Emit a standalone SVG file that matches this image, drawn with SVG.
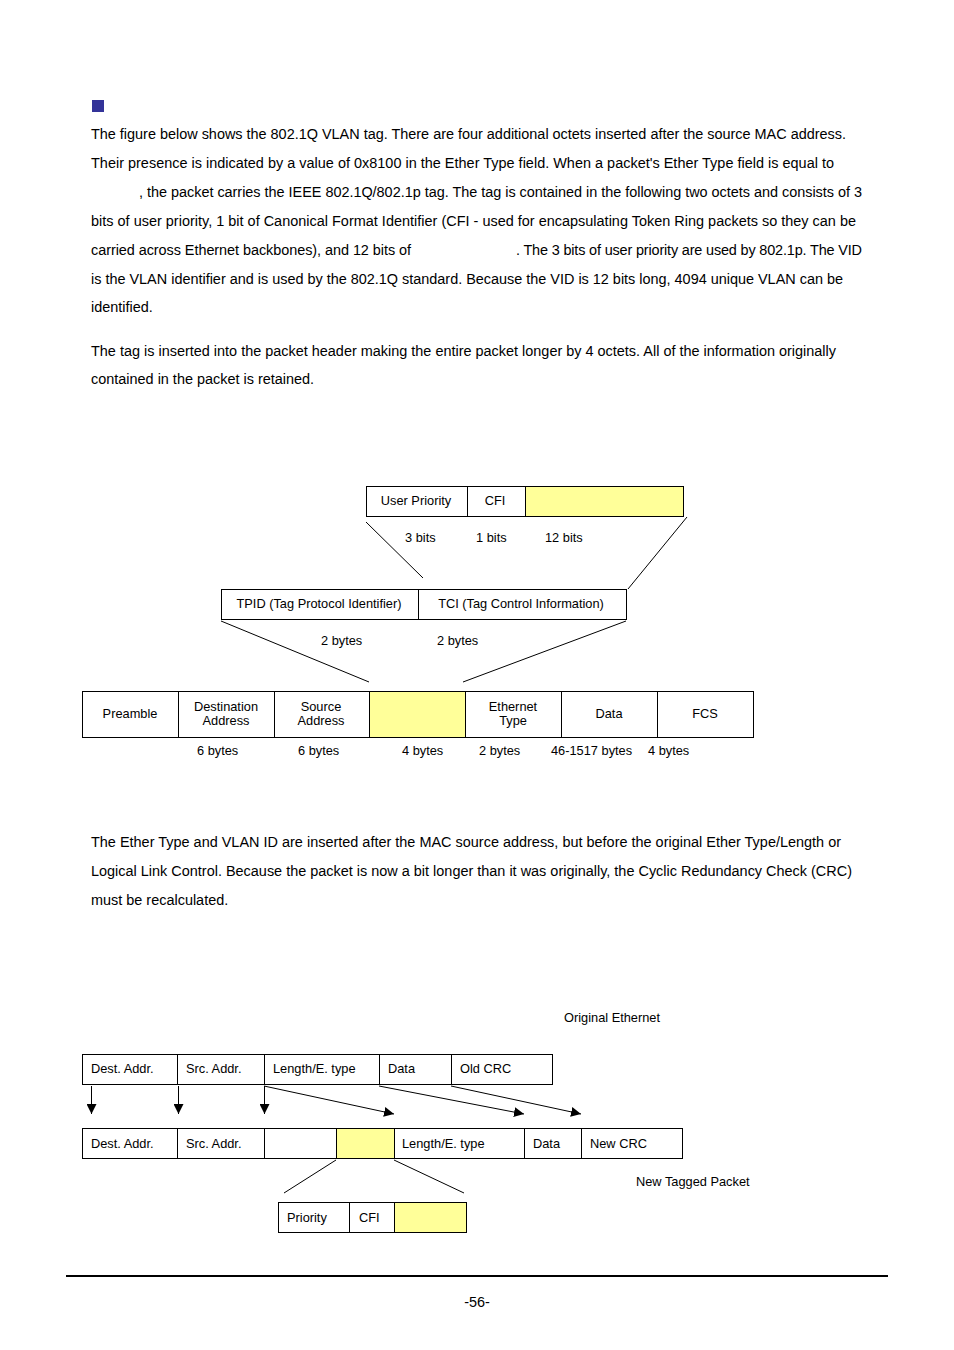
<svg xmlns="http://www.w3.org/2000/svg" width="954" height="1350" viewBox="0 0 954 1350">
<style>
text{font-family:"Liberation Sans",Arial,sans-serif;fill:#000}
.p{font-size:14.45px}
.d{font-size:12.8px}
.c{text-anchor:middle}
.box{fill:#fff;stroke:#000;stroke-width:1;shape-rendering:crispEdges}
.y{fill:#ffff99;stroke:#000;stroke-width:1;shape-rendering:crispEdges}
.ln{stroke:#000;stroke-width:1;fill:none}
.v{stroke:#000;stroke-width:1;fill:none;shape-rendering:crispEdges}
</style>
<defs>
<marker id="ah" viewBox="0 0 10 10" refX="10" refY="5" markerWidth="10" markerHeight="10" markerUnits="userSpaceOnUse" orient="auto">
<path d="M0,0 L10,5 L0,10 z" fill="#000"/>
</marker>
</defs>
<rect x="92" y="100" width="12" height="12" fill="#333399"/>
<g id="para1" class="p">
<text x="91" y="139" textLength="755">The figure below shows the 802.1Q VLAN tag. There are four additional octets inserted after the source MAC address.</text>
<text x="91" y="168" textLength="743">Their presence is indicated by a value of 0x8100 in the Ether Type field. When a packet's Ether Type field is equal to</text>
<text x="139" y="197" textLength="723">, the packet carries the IEEE 802.1Q/802.1p tag. The tag is contained in the following two octets and consists of 3</text>
<text x="91" y="226" textLength="765">bits of user priority, 1 bit of Canonical Format Identifier (CFI - used for encapsulating Token Ring packets so they can be</text>
<text x="91" y="255" textLength="320">carried across Ethernet backbones), and 12 bits of</text>
<text x="516" y="255" textLength="346">. The 3 bits of user priority are used by 802.1p. The VID</text>
<text x="91" y="284" textLength="752">is the VLAN identifier and is used by the 802.1Q standard. Because the VID is 12 bits long, 4094 unique VLAN can be</text>
<text x="91" y="312">identified.</text>
<text x="91" y="356" textLength="745">The tag is inserted into the packet header making the entire packet longer by 4 octets. All of the information originally</text>
<text x="91" y="384">contained in the packet is retained.</text>
</g>
<g id="tci-fields">
<rect class="box" x="366" y="486" width="101" height="30"/>
<rect class="box" x="467" y="486" width="58" height="30"/>
<rect class="y" x="525" y="486" width="158" height="30"/>
<text class="d c" x="416" y="505">User Priority</text>
<text class="d c" x="495" y="505">CFI</text>
<text class="d" x="405" y="542">3 bits</text>
<text class="d" x="476" y="542">1 bits</text>
<text class="d" x="545" y="542">12 bits</text>
</g>
<g id="tag-fields">
<rect class="box" x="221" y="589" width="197" height="30"/>
<rect class="box" x="418" y="589" width="208" height="30"/>
<text class="d c" x="319" y="608">TPID (Tag Protocol Identifier)</text>
<text class="d c" x="521" y="608">TCI (Tag Control Information)</text>
<text class="d" x="321" y="645">2 bytes</text>
<text class="d" x="437" y="645">2 bytes</text>
</g>
<g id="frame">
<rect class="box" x="82" y="691" width="96" height="46"/>
<rect class="box" x="178" y="691" width="96" height="46"/>
<rect class="box" x="274" y="691" width="95" height="46"/>
<rect class="y" x="369" y="691" width="96" height="46"/>
<rect class="box" x="465" y="691" width="96" height="46"/>
<rect class="box" x="561" y="691" width="96" height="46"/>
<rect class="box" x="657" y="691" width="96" height="46"/>
<text class="d c" x="130" y="718">Preamble</text>
<text class="d c" x="226" y="711">Destination</text>
<text class="d c" x="226" y="725">Address</text>
<text class="d c" x="321" y="711">Source</text>
<text class="d c" x="321" y="725">Address</text>
<text class="d c" x="513" y="711">Ethernet</text>
<text class="d c" x="513" y="725">Type</text>
<text class="d c" x="609" y="718">Data</text>
<text class="d c" x="705" y="718">FCS</text>
<text class="d" x="197" y="755">6 bytes</text>
<text class="d" x="298" y="755">6 bytes</text>
<text class="d" x="402" y="755">4 bytes</text>
<text class="d" x="479" y="755">2 bytes</text>
<text class="d" x="551" y="755">46-1517 bytes</text>
<text class="d" x="648" y="755">4 bytes</text>
</g>
<g id="connectors1">
<line class="ln" x1="366" y1="522" x2="423" y2="578"/>
<line class="ln" x1="687" y1="517" x2="628" y2="589"/>
<line class="ln" x1="221" y1="621" x2="369" y2="682"/>
<line class="ln" x1="626" y1="621" x2="463" y2="682"/>
</g>
<g id="para2" class="p">
<text x="91" y="847" textLength="750">The Ether Type and VLAN ID are inserted after the MAC source address, but before the original Ether Type/Length or</text>
<text x="91" y="876" textLength="761">Logical Link Control. Because the packet is now a bit longer than it was originally, the Cyclic Redundancy Check (CRC)</text>
<text x="91" y="905">must be recalculated.</text>
</g>
<text class="d" x="564" y="1022">Original Ethernet</text>
<g id="orig">
<rect class="box" x="82" y="1054" width="95" height="30"/>
<rect class="box" x="177" y="1054" width="87" height="30"/>
<rect class="box" x="264" y="1054" width="115" height="30"/>
<rect class="box" x="379" y="1054" width="72" height="30"/>
<rect class="box" x="451" y="1054" width="101" height="30"/>
<text class="d" x="91" y="1073">Dest. Addr.</text>
<text class="d" x="186" y="1073">Src. Addr.</text>
<text class="d" x="273" y="1073">Length/E. type</text>
<text class="d" x="388" y="1073">Data</text>
<text class="d" x="460" y="1073">Old CRC</text>
</g>
<g id="connectors2">
<line class="v" x1="91.5" y1="1086" x2="91.5" y2="1114" marker-end="url(#ah)"/>
<line class="v" x1="178.5" y1="1086" x2="178.5" y2="1114" marker-end="url(#ah)"/>
<line class="v" x1="264.5" y1="1086" x2="264.5" y2="1114" marker-end="url(#ah)"/>
<line class="ln" x1="264" y1="1086" x2="394" y2="1114" marker-end="url(#ah)"/>
<line class="ln" x1="379" y1="1086" x2="524" y2="1114" marker-end="url(#ah)"/>
<line class="ln" x1="451" y1="1086" x2="581" y2="1114" marker-end="url(#ah)"/>
<line class="ln" x1="336" y1="1160" x2="284" y2="1193"/>
<line class="ln" x1="394" y1="1160" x2="464" y2="1193"/>
</g>
<g id="tagged">
<rect class="box" x="82" y="1128" width="95" height="30"/>
<rect class="box" x="177" y="1128" width="87" height="30"/>
<rect class="box" x="264" y="1128" width="72" height="30"/>
<rect class="y" x="336" y="1128" width="58" height="30"/>
<rect class="box" x="394" y="1128" width="130" height="30"/>
<rect class="box" x="524" y="1128" width="57" height="30"/>
<rect class="box" x="581" y="1128" width="101" height="30"/>
<text class="d" x="91" y="1148">Dest. Addr.</text>
<text class="d" x="186" y="1148">Src. Addr.</text>
<text class="d" x="402" y="1148">Length/E. type</text>
<text class="d" x="533" y="1148">Data</text>
<text class="d" x="590" y="1148">New CRC</text>
</g>
<text class="d" x="636" y="1186">New Tagged Packet</text>
<g id="tag-detail">
<rect class="box" x="278" y="1202" width="71" height="30"/>
<rect class="box" x="349" y="1202" width="45" height="30"/>
<rect class="y" x="394" y="1202" width="72" height="30"/>
<text class="d" x="287" y="1222">Priority</text>
<text class="d" x="359" y="1222">CFI</text>
</g>
<rect x="66" y="1275" width="822" height="2" fill="#000"/>
<text class="p c" x="477" y="1307">-56-</text>
</svg>
